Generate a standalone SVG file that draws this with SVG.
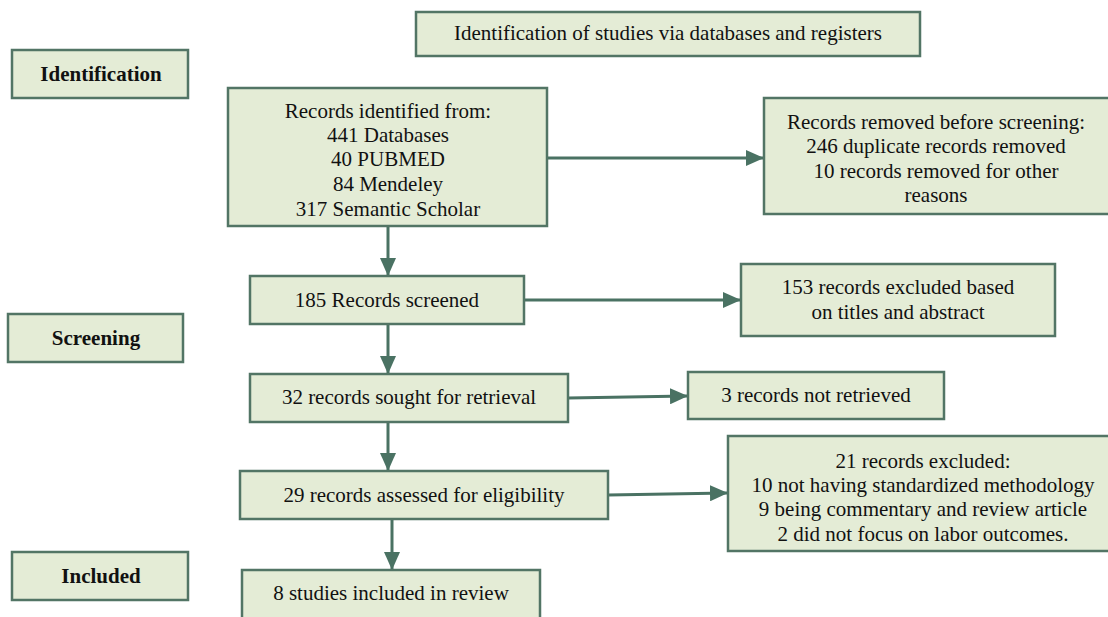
<svg xmlns="http://www.w3.org/2000/svg" width="1108" height="617" viewBox="0 0 1108 617">
<defs>
<style>
.box{fill:#E4ECD6;stroke:#527565;stroke-width:2.5}
.t{font-family:"Liberation Serif","Times New Roman","DejaVu Serif",serif;font-size:21px;fill:#111;text-anchor:middle;dominant-baseline:central}
.b{font-weight:bold}
.c{stroke:#4A7263;stroke-width:3;fill:none;marker-end:url(#ah)}
</style>
<marker id="ah" markerUnits="userSpaceOnUse" markerWidth="18" markerHeight="16" refX="17" refY="8" orient="auto">
<path d="M0,0 L18,8 L0,16 Z" fill="#4A7263"/>
</marker>
</defs>
<rect width="1108" height="617" fill="#fff"/>
<g id="connectors">
<path class="c" d="M547,158 H763"/>
<path class="c" d="M388,226 V275"/>
<path class="c" d="M524,300 H740"/>
<path class="c" d="M388,324 V373"/>
<path class="c" d="M568,398 L687,396"/>
<path class="c" d="M388,422 V470"/>
<path class="c" d="M608,495 L727,493"/>
<path class="c" d="M392,519 V569"/>
</g>
<g id="title"><rect class="box" x="416" y="12" width="504" height="44"/><text class="t" x="668" y="33">Identification of studies via databases and registers</text></g>
<g id="lbl-identification"><rect class="box" x="12" y="50" width="176" height="48"/><text class="t b" x="101" y="74">Identification</text></g>
<g id="lbl-screening"><rect class="box" x="8" y="314" width="175" height="48"/><text class="t b" x="96" y="338">Screening</text></g>
<g id="lbl-included"><rect class="box" x="12" y="552" width="176" height="48"/><text class="t b" x="101" y="576">Included</text></g>
<g id="identified"><rect class="box" x="228" y="88" width="319" height="138"/>
<text class="t" x="388" y="111">Records identified from:</text>
<text class="t" x="388" y="135">441 Databases</text>
<text class="t" x="388" y="159">40 PUBMED</text>
<text class="t" x="388" y="184">84 Mendeley</text>
<text class="t" x="388" y="209">317 Semantic Scholar</text></g>
<g id="removed"><rect class="box" x="764" y="98" width="346" height="116"/>
<text class="t" x="936" y="122">Records removed before screening:</text>
<text class="t" x="936" y="146">246 duplicate records removed</text>
<text class="t" x="936" y="171">10 records removed for other</text>
<text class="t" x="936" y="195">reasons</text></g>
<g id="screened"><rect class="box" x="250" y="276" width="274" height="48"/><text class="t" x="387" y="300">185 Records screened</text></g>
<g id="excluded1"><rect class="box" x="741" y="264" width="314" height="72"/>
<text class="t" x="898" y="287">153 records excluded based</text>
<text class="t" x="898" y="312">on titles and abstract</text></g>
<g id="sought"><rect class="box" x="250" y="374" width="318" height="48"/><text class="t" x="409" y="397">32 records sought for retrieval</text></g>
<g id="notretrieved"><rect class="box" x="688" y="372" width="256" height="47"/><text class="t" x="816" y="395">3 records not retrieved</text></g>
<g id="assessed"><rect class="box" x="240" y="471" width="368" height="48"/><text class="t" x="424" y="495">29 records assessed for eligibility</text></g>
<g id="excluded2"><rect class="box" x="728" y="436" width="382" height="115"/>
<text class="t" x="923" y="461">21 records excluded:</text>
<text class="t" x="923" y="485">10 not having standardized methodology</text>
<text class="t" x="923" y="509">9 being commentary and review article</text>
<text class="t" x="923" y="534">2 did not focus on labor outcomes.</text></g>
<g id="included"><rect class="box" x="242" y="570" width="298" height="60"/><text class="t" x="391" y="593">8 studies included in review</text></g>
</svg>
